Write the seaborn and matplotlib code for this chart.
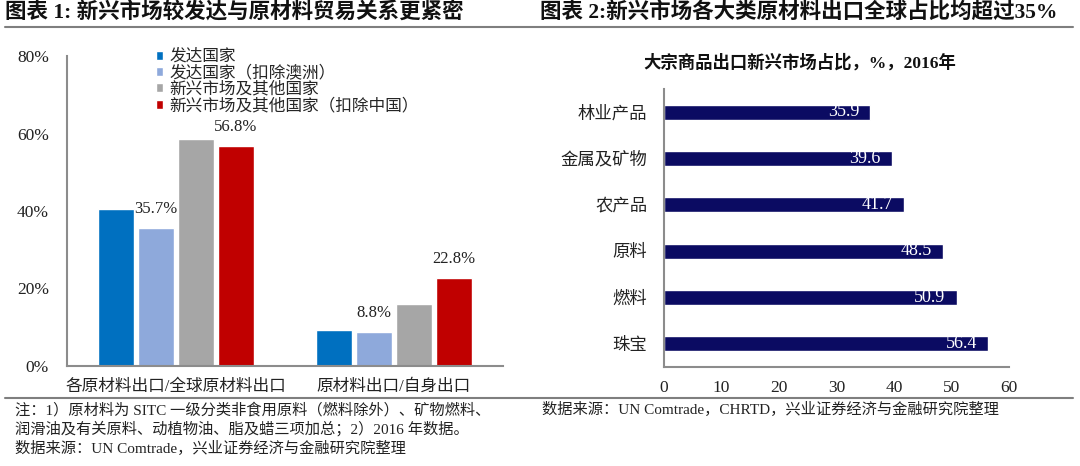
import matplotlib
matplotlib.use("Agg")
import matplotlib.pyplot as plt
import seaborn as sns
import pandas as pd
from matplotlib.ticker import FixedLocator

# ---------------- data ----------------
left_categories = ["各原材料出口/全球原材料出口", "原材料出口/自身出口"]
left_series = ["发达国家", "发达国家（扣除澳洲）", "新兴市场及其他国家", "新兴市场及其他国家（扣除中国）"]
dev = [40.5, 9.3]
dev_ex_aus = [35.7, 8.8]
em = [58.6, 16.0]
em_ex_china = [56.8, 22.8]
left_yticks = [0, 20, 40, 60, 80]
left_yticklabels = ["0%", "20%", "40%", "60%", "80%"]

right_categories = ["林业产品", "金属及矿物", "农产品", "原料", "燃料", "珠宝"]
right_values = [35.9, 39.6, 41.7, 48.5, 50.9, 56.4]
right_xticks = [0, 10, 20, 30, 40, 50, 60]

title_left = "图表 1: 新兴市场较发达与原材料贸易关系更紧密"
title_right = "图表 2:新兴市场各大类原材料出口全球占比均超过35%"
subtitle_right = "大宗商品出口新兴市场占比，%，2016年"
note_left = ["注：1）原材料为 SITC 一级分类非食用原料（燃料除外）、矿物燃料、",
             "润滑油及有关原料、动植物油、脂及蜡三项加总；2）2016 年数据。",
             "数据来源：UN Comtrade，兴业证券经济与金融研究院整理"]
note_right = "数据来源：UN Comtrade，CHRTD，兴业证券经济与金融研究院整理"

# ---------------- style ----------------
sns.set_theme(style="white")
FAM = ["Liberation Serif", "Noto Sans CJK SC", "DejaVu Sans"]
plt.rcParams["font.family"] = FAM
AX_GREY = "#8c8c8c"
palette = ["#0070C0", "#8EA9DB", "#A6A6A6", "#C00000"]
NAVY = "#0B0B62"

fig = plt.figure(figsize=(10.8, 4.66), dpi=100)
W, H = 1080, 466

def ax_rect(l, r, t, b):
    return [l / W, 1 - b / H, (r - l) / W, (b - t) / H]

# ---------------- left chart ----------------
axL = fig.add_axes(ax_rect(67, 503, 56, 366))
rows = []
for s, vals in zip(left_series, [dev, dev_ex_aus, em, em_ex_china]):
    for c, v in zip(left_categories, vals):
        rows.append({"cat": c, "series": s, "val": v})
dfL = pd.DataFrame(rows)
sns.barplot(data=dfL, x="cat", y="val", hue="series", order=left_categories,
            hue_order=left_series, palette=palette, width=0.73, gap=0.1,
            saturation=1, ax=axL, legend=True)
axL.set_xlim(-0.5, 1.5)
axL.set_ylim(0, 80)
axL.set_xlabel("")
axL.set_ylabel("")
axL.set_yticks(left_yticks)
axL.set_yticklabels(left_yticklabels, fontsize=12.5, family=FAM)
axL.tick_params(axis="y", direction="in", length=4, width=1.2, color=AX_GREY, pad=13, labelcolor="#222222")
axL.tick_params(axis="x", which="major", length=0, pad=9, labelsize=12, labelcolor="#222222")
axL.xaxis.set_minor_locator(FixedLocator([-0.5, 0.5, 1.5]))
axL.tick_params(axis="x", which="minor", direction="in", length=4, width=1.2, color=AX_GREY)
for lab in axL.get_xticklabels():
    lab.set_family(FAM)
for sp in ["top", "right"]:
    axL.spines[sp].set_visible(False)
for sp in ["left", "bottom"]:
    axL.spines[sp].set_color(AX_GREY)
    axL.spines[sp].set_linewidth(1.5)

# data labels for 2nd and 4th series
for idx in (1, 3):
    axL.bar_label(axL.containers[idx], fmt="%.1f%%", padding=8, fontsize=12,
                  family=FAM, color="#222222")

handles, labels = axL.get_legend_handles_labels()
axL.get_legend().remove()
fig.legend(handles, labels, loc="upper left", bbox_to_anchor=(156 / W, 1 - 49 / H),
           frameon=False, handlelength=0.45, handleheight=0.45,
           handletextpad=0.35, labelspacing=0.02, borderpad=0, borderaxespad=0,
           prop={"family": FAM, "size": 12})

# ---------------- right chart ----------------
axR = fig.add_axes(ax_rect(664, 1009, 89, 367))
dfR = pd.DataFrame({"cat": right_categories, "val": right_values})
sns.barplot(data=dfR, x="val", y="cat", order=right_categories, orient="h",
            color=NAVY, saturation=1, width=0.32, ax=axR)
axR.set_xlim(0, 60)
axR.set_ylim(len(right_categories) - 0.5, -0.5)
axR.set_xlabel("")
axR.set_ylabel("")
axR.set_xticks(right_xticks)
axR.set_xticklabels([str(t) for t in right_xticks], fontsize=12.5, family=FAM)
axR.tick_params(axis="x", direction="in", length=4, width=1.2, color=AX_GREY, pad=9, labelcolor="#222222")
axR.tick_params(axis="y", which="major", length=0, pad=12, labelsize=12.5, labelcolor="#222222")
axR.yaxis.set_minor_locator(FixedLocator([i - 0.5 for i in range(len(right_categories) + 1)]))
axR.tick_params(axis="y", which="minor", direction="in", length=4, width=1.2, color=AX_GREY)
for lab in axR.get_yticklabels():
    lab.set_family(FAM)
for sp in ["top", "right"]:
    axR.spines[sp].set_visible(False)
for sp in ["left", "bottom"]:
    axR.spines[sp].set_color(AX_GREY)
    axR.spines[sp].set_linewidth(1.5)

for bar, v in zip(axR.containers[0], right_values):
    x_end = bar.get_x() + bar.get_width()
    yc = bar.get_y() + bar.get_height() / 2
    axR.annotate(f"{v:.1f}", xy=(x_end, yc), xytext=(-8, 0.3), textcoords="offset points",
                 ha="right", va="center", color="white", fontsize=13, family=FAM)

fig.text(800 / W, 1 - 63 / H, subtitle_right, ha="center", va="center",
         fontsize=12.5, fontweight="bold", family=FAM, color="#111111")

# ---------------- titles, rules, notes ----------------
fig.text(5 / W, 1 - 13 / H, title_left, ha="left", va="center", fontsize=15.5,
         fontweight="bold", family=FAM, color="#111111")
fig.text(540 / W, 1 - 13 / H, title_right, ha="left", va="center", fontsize=15.5,
         fontweight="bold", family=FAM, color="#111111")

for yline in (27, 398):
    fig.add_artist(plt.Line2D([5 / W, 1073 / W], [1 - yline / H, 1 - yline / H],
                              color="#7f7f7f", linewidth=1.5))

for i, line in enumerate(note_left):
    fig.text(15 / W, 1 - (410 + 19 * i) / H, line, ha="left", va="center",
             fontsize=11, family=FAM, color="#222222")
fig.text(542 / W, 1 - 409 / H, note_right, ha="left", va="center",
         fontsize=11, family=FAM, color="#222222")

fig.savefig("out.png", dpi=100)
